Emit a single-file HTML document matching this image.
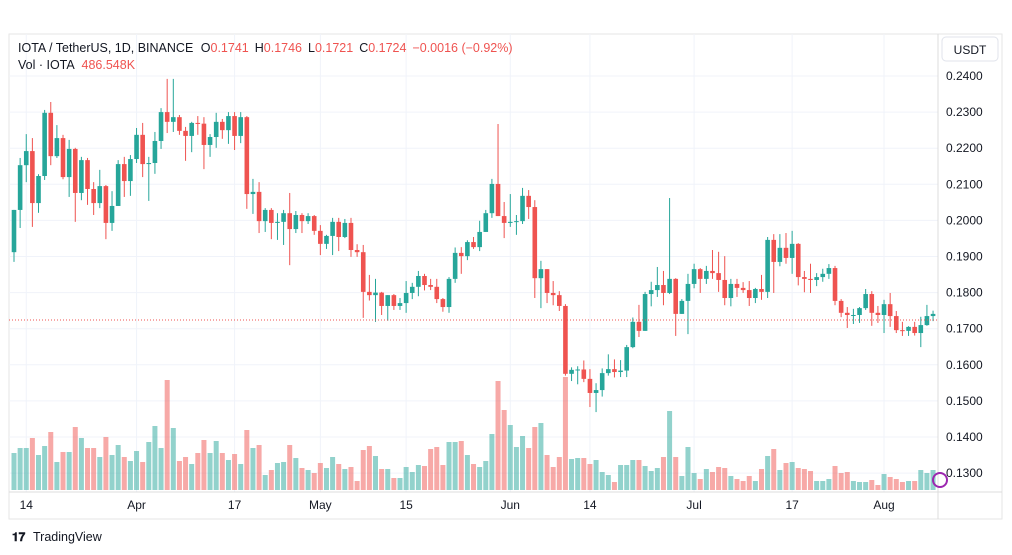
<!DOCTYPE html>
<html><head><meta charset="utf-8"><style>
body{margin:0;background:#fff;font-family:"Liberation Sans",sans-serif;}
svg{display:block}
</style></head><body>
<svg id="c" width="1012" height="555" viewBox="0 0 1012 555" xmlns="http://www.w3.org/2000/svg">
<rect x="9" y="34" width="993" height="485" fill="#fff" stroke="#e6e6e6"/>
<g id="grid"></g><g id="vol"></g><g id="candles"></g>
<line x1="9" y1="320" x2="938" y2="320" stroke="#ef5350" stroke-dasharray="1,2"/>
<line x1="938" y1="34" x2="938" y2="519" stroke="#dcdcdc"/>
<line x1="9" y1="492" x2="1002" y2="492" stroke="#dcdcdc"/>
<g id="yticks"></g><g id="xticks"></g>
<rect x="942" y="37" width="56" height="24" rx="4" fill="#fff" stroke="#e0e3eb"/>
<text x="970" y="54" font-size="12" fill="#131722" text-anchor="middle">USDT</text>
<text x="18" y="52" font-size="12.5" fill="#131722">IOTA / TetherUS, 1D, BINANCE <tspan dx="4">O</tspan><tspan fill="#ef5350">0.1741</tspan><tspan dx="6">H</tspan><tspan fill="#ef5350">0.1746</tspan><tspan dx="6">L</tspan><tspan fill="#ef5350">0.1721</tspan><tspan dx="6">C</tspan><tspan fill="#ef5350">0.1724</tspan><tspan dx="6" fill="#ef5350">−0.0016 (−0.92%)</tspan></text>
<text x="18" y="69" font-size="12.5" fill="#131722">Vol · IOTA <tspan dx="4" fill="#ef5350">486.548K</tspan></text>
<circle cx="940" cy="480" r="7" fill="none" stroke="#9c27b0" stroke-width="2"/>
<text x="12" y="541" font-size="12" font-weight="bold" fill="#131722">𝟏𝟕</text>
<text x="33" y="541" font-size="12.5" fill="#131722">TradingView</text>
</svg>
<script>
const closes=[0.2029,0.2153,0.2192,0.2048,0.2123,0.2298,0.2178,0.2228,0.2120,0.2198,0.2076,0.2167,0.2087,0.2048,0.2095,0.1993,0.2040,0.2156,0.2109,0.2170,0.2237,0.2156,0.2159,0.2220,0.2300,0.2273,0.2286,0.2248,0.2234,0.2270,0.2268,0.2209,0.2231,0.2273,0.2250,0.2289,0.2234,0.2286,0.2073,0.2079,0.1998,0.2029,0.1993,0.1996,0.2020,0.1976,0.2015,0.1998,0.2012,0.1971,0.1935,0.1957,0.1996,0.1954,0.1993,0.1918,0.1912,0.1802,0.1793,0.1800,0.1763,0.1793,0.1763,0.1771,0.1799,0.1816,0.1846,0.1821,0.1816,0.1782,0.1760,0.1838,0.1910,0.1901,0.1940,0.1926,0.1968,0.2020,0.2101,0.2012,0.1993,0.1996,0.1998,0.2068,0.2037,0.1840,0.1865,0.1799,0.1793,0.1763,0.1575,0.1586,0.1587,0.1561,0.1522,0.1530,0.1577,0.1588,0.1580,0.1584,0.1649,0.1719,0.1694,0.1796,0.1807,0.1821,0.1799,0.1838,0.1741,0.1777,0.1824,0.1865,0.1838,0.1860,0.1854,0.1835,0.1785,0.1824,0.1813,0.1807,0.1785,0.1810,0.1802,0.1946,0.1885,0.1924,0.1896,0.1935,0.1843,0.1838,0.1835,0.1843,0.1852,0.1868,0.1777,0.1744,0.1738,0.1738,0.1757,0.1796,0.1744,0.1738,0.1768,0.1735,0.1696,0.1694,0.1705,0.1688,0.1710,0.1735,0.1741];
const highs=[0.2029,0.2173,0.2239,0.2228,0.2128,0.2306,0.2328,0.2264,0.2237,0.2223,0.2201,0.2176,0.2173,0.2106,0.2140,0.2098,0.2081,0.2167,0.2176,0.2181,0.2256,0.2270,0.2176,0.2245,0.2311,0.2392,0.2392,0.2292,0.2259,0.2273,0.2289,0.2286,0.2239,0.2298,0.2281,0.2300,0.2300,0.2300,0.2289,0.2115,0.2106,0.2034,0.2034,0.2020,0.2029,0.2076,0.2026,0.2020,0.2020,0.2015,0.1987,0.1960,0.2007,0.2007,0.2004,0.2007,0.1934,0.1932,0.1849,0.1838,0.1802,0.1793,0.1796,0.1785,0.1832,0.1827,0.1860,0.1852,0.1838,0.1838,0.1785,0.1843,0.1925,0.1926,0.1945,0.1954,0.1999,0.2029,0.2115,0.2267,0.2051,0.2073,0.2015,0.2090,0.2084,0.2056,0.1888,0.1865,0.1832,0.1804,0.1768,0.1593,0.1596,0.1612,0.1588,0.1549,0.1590,0.1629,0.1615,0.1613,0.1655,0.1731,0.1766,0.1802,0.1830,0.1871,0.1860,0.2062,0.1840,0.1782,0.1852,0.1880,0.1868,0.1874,0.1918,0.1913,0.1901,0.1838,0.1838,0.1829,0.1832,0.1813,0.1849,0.1954,0.1962,0.1962,0.1965,0.1971,0.1937,0.1860,0.1880,0.1854,0.1866,0.1879,0.1874,0.1782,0.1760,0.1755,0.1760,0.1810,0.1804,0.1763,0.1780,0.1799,0.1749,0.1719,0.1707,0.1719,0.1733,0.1766,0.1750];
const lows=[0.1885,0.1979,0.2106,0.1982,0.2021,0.2112,0.2153,0.2173,0.2114,0.2065,0.1996,0.2056,0.2043,0.2015,0.2034,0.1948,0.1971,0.2040,0.2065,0.2068,0.2159,0.2120,0.2054,0.2129,0.2198,0.2242,0.2245,0.2237,0.2165,0.2189,0.2237,0.2142,0.2176,0.2201,0.2226,0.2212,0.2195,0.2214,0.2032,0.2018,0.1965,0.1968,0.1948,0.1946,0.1932,0.1876,0.1965,0.1965,0.1990,0.1960,0.1904,0.1921,0.1904,0.1915,0.1951,0.1899,0.1899,0.1730,0.1778,0.1719,0.1738,0.1722,0.1752,0.1752,0.1744,0.1782,0.1790,0.1806,0.1807,0.1771,0.1747,0.1744,0.1827,0.1852,0.1890,0.1921,0.1915,0.1968,0.2007,0.2012,0.1951,0.1982,0.1960,0.1990,0.2004,0.1785,0.1757,0.1771,0.1765,0.1749,0.1570,0.1555,0.1546,0.1552,0.1483,0.1469,0.1512,0.1570,0.1565,0.1566,0.1566,0.1646,0.1677,0.1694,0.1762,0.1788,0.1765,0.1796,0.1680,0.1741,0.1685,0.1812,0.1799,0.1824,0.1838,0.1802,0.1765,0.1762,0.1788,0.1799,0.1763,0.1771,0.1780,0.1785,0.1799,0.1873,0.1880,0.1852,0.1820,0.1801,0.1799,0.1818,0.1830,0.1838,0.1765,0.1732,0.1702,0.1713,0.1716,0.1752,0.1708,0.1716,0.1688,0.1705,0.1688,0.1680,0.1680,0.1681,0.1649,0.1708,0.1721];
const volumes=[3.7,4.2,4.2,5.2,3.5,4.4,5.8,2.8,3.8,3.8,6.3,5.2,4.2,4.2,3.3,5.3,3.5,4.5,3.3,2.9,3.9,2.8,4.8,6.4,4.2,11.0,6.2,2.9,3.3,2.6,3.7,5.0,3.7,4.9,3.7,3.0,3.6,2.6,6.0,4.2,4.5,1.5,2.0,2.7,2.8,4.5,3.2,2.2,2.0,1.7,2.7,2.2,3.3,2.6,2.1,2.3,0.9,4.0,4.4,3.4,2.1,2.1,1.2,1.2,2.3,1.8,2.5,2.4,4.1,4.3,2.5,4.8,4.8,4.9,3.5,2.6,2.3,2.9,5.6,10.9,8.0,6.5,4.3,5.4,4.2,6.3,6.7,3.5,2.3,3.3,11.3,3.1,3.2,3.2,2.6,3.0,1.8,1.5,0.8,2.5,2.5,3.0,3.0,2.4,1.9,2.2,3.3,7.9,3.3,1.4,4.3,1.7,1.1,2.1,1.8,2.3,2.2,1.4,1.1,0.9,1.4,0.9,2.1,3.4,4.1,2.0,2.7,2.8,2.2,2.1,1.9,0.9,0.9,1.1,2.4,1.7,1.8,0.9,0.8,0.8,1.0,0.5,1.6,1.3,1.1,0.8,0.9,0.9,2.0,1.7,2.0];
const priceTicks=[0.24,0.23,0.22,0.21,0.20,0.19,0.18,0.17,0.16,0.15,0.14,0.13];
const dateLabels=["14","Apr","17","May","15","Jun","14","Jul","17","Aug"];
const dateIndex=[2,20,36,50,64,81,94,111,127,142];
const NS="http://www.w3.org/2000/svg";
function y(p){return 76+(0.24-p)/0.01*36.1;}
function x(i){return 14+i*6.127;}
function vy(v){return 490-v*10;}
function mk(tag,attrs,parent){const e=document.createElementNS(NS,tag);for(const k in attrs)e.setAttribute(k,attrs[k]);parent.appendChild(e);return e;}
const grid=document.getElementById('grid'),yt=document.getElementById('yticks'),xt=document.getElementById('xticks');
priceTicks.forEach(p=>{
 const l=mk('line',{x1:9,x2:938,y1:y(p),y2:y(p),stroke:'#f0f3fa'},grid);
 
 
 const t=mk('text',{x:946,y:y(p)+4,'font-size':12,fill:'#131722'},yt);
 t.textContent=p.toFixed(4);
 
 
});
dateLabels.forEach((d,k)=>{
 const xx=x(dateIndex[k]);
 const l=mk('line',{x1:xx,x2:xx,y1:34,y2:492,stroke:'#f0f3fa'},grid);
 
 
 const t=mk('text',{x:xx,y:509,'font-size':12,fill:'#131722','text-anchor':'middle'},xt);
 t.textContent=d;
 
 
});
const cg=document.getElementById('candles'),vg=document.getElementById('vol');
closes.forEach((c,i)=>{
 const o=i===0?0.1912:closes[i-1];
 const up=c>=o;
 const col=up?'#26a69a':'#ef5350';
 const xx=x(i);
 const v=mk('rect',{x:xx-2.5,y:vy(volumes[i]),width:5,height:490-vy(volumes[i]),fill:up?'rgba(38,166,154,0.5)':'rgba(239,83,80,0.5)'},vg);
 
 
 const w=mk('line',{x1:xx,x2:xx,y1:y(highs[i]),y2:y(lows[i]),stroke:col,'stroke-width':1},cg);
 
 
 const top=y(Math.max(o,c)),bot=y(Math.min(o,c));
 const b=mk('rect',{x:xx-2.3,y:top,width:4.6,height:Math.max(1,bot-top),fill:col},cg);
 
 
});
</script>
</body></html>
